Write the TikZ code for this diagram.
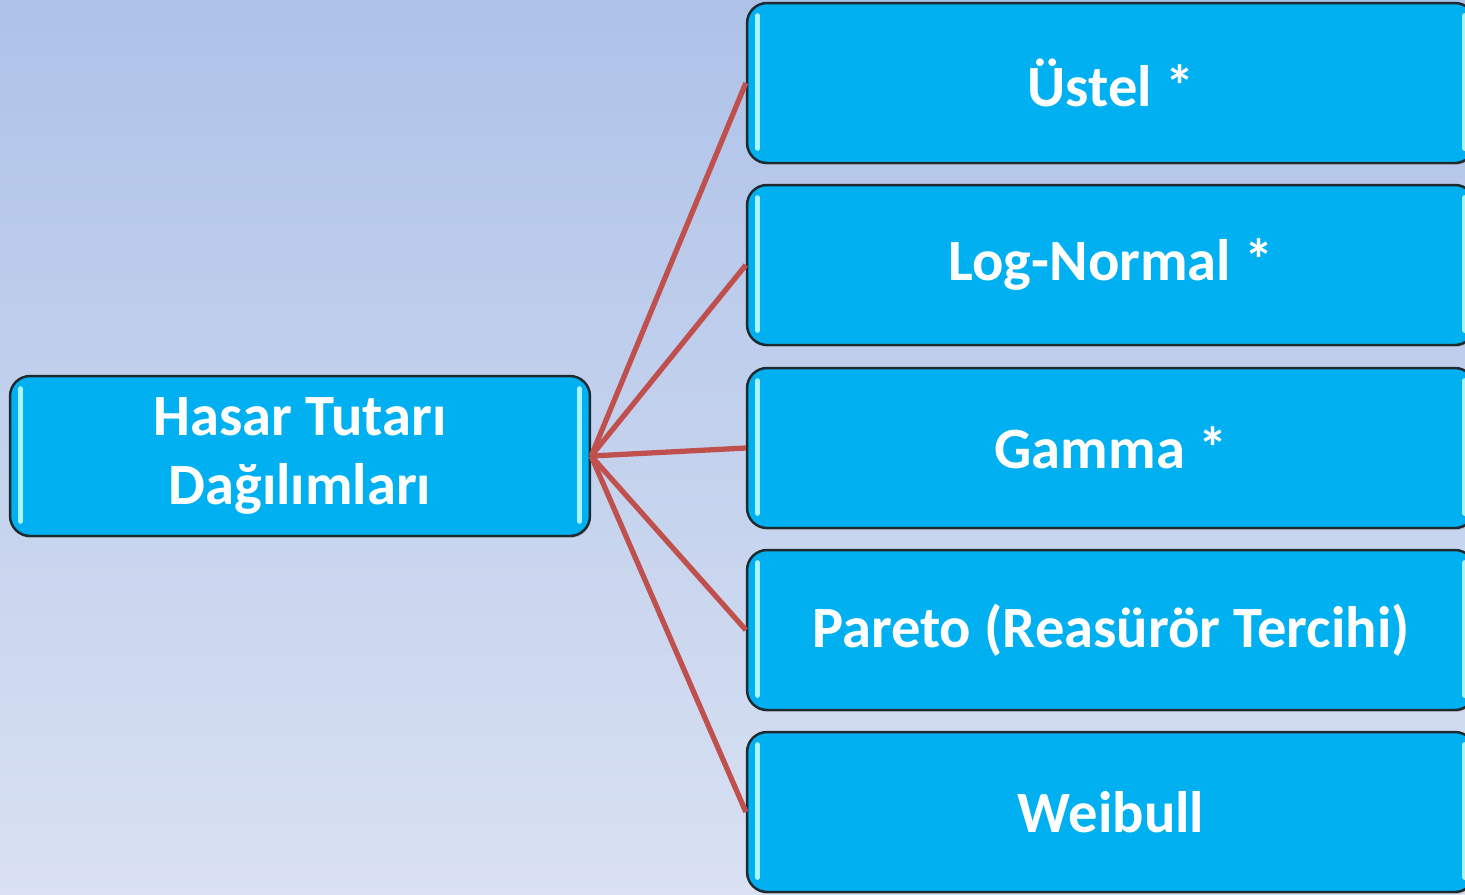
\documentclass[tikz,border=0pt]{standalone}
\usepackage{fontspec}
\setmainfont{Carlito}
\usetikzlibrary{shadows}

\definecolor{skytop}{HTML}{AEC2E8}
\definecolor{skybot}{HTML}{D9E1F2}
\definecolor{boxfill}{HTML}{00B0F0}
\definecolor{boxline}{HTML}{1F2A30}
\definecolor{linkred}{HTML}{C0504D}
\definecolor{glintcol}{HTML}{A8F4FF}

\tikzset{
  box/.style={fill=boxfill, draw=boxline, line width=1.4pt, rounded corners=0.4cm,
    text=white, font=\bfseries\fontsize{33.3}{39}\selectfont, align=center,
    minimum height=3.2cm, inner sep=0pt,
    drop shadow={shadow xshift=0.02cm, shadow yshift=-0.04cm, opacity=0.35}},
  link/.style={draw=linkred, line width=3pt},
  glint/.style={draw=glintcol, line width=3pt, line cap=round}
}

\begin{document}
\begin{tikzpicture}[x=0.02cm, y=-0.02cm]
\clip (0,0) rectangle (1465,894);
\shade [top color=skytop, bottom color=skybot] (0,0) rectangle (1465,894);

\node (L) at (300,456) [box, minimum width=11.6cm]{Hasar Tutarı\\Dağılımları};

\node (B1) at (1111,83) [box, minimum width=14.56cm]{Üstel *};
\node (B2) at (1111,265) [box, minimum width=14.56cm]{Log-Normal *};
\node (B3) at (1111,448) [box, minimum width=14.56cm]{Gamma *};
\node (B4) at (1111,630) [box, minimum width=14.56cm]{Pareto (Reasürör Tercihi)};
\node (B5) at (1111,812) [box, minimum width=14.56cm]{Weibull};

% highlights on the box sides
\foreach \n in {L,B1,B2,B3,B4,B5}{
  \draw [glint] ([xshift=0.23cm,yshift=-0.28cm]\n.north west) -- ([xshift=0.23cm,yshift=0.32cm]\n.south west);
  \draw [glint] ([xshift=-0.23cm,yshift=-0.28cm]\n.north east) -- ([xshift=-0.23cm,yshift=0.32cm]\n.south east);
}

\draw [link] (L.east) -- (B1.west);
\draw [link] (L.east) -- (B2.west);
\draw [link] (L.east) -- (B3.west);
\draw [link] (L.east) -- (B4.west);
\draw [link] (L.east) -- (B5.west);

\end{tikzpicture}
\end{document}
